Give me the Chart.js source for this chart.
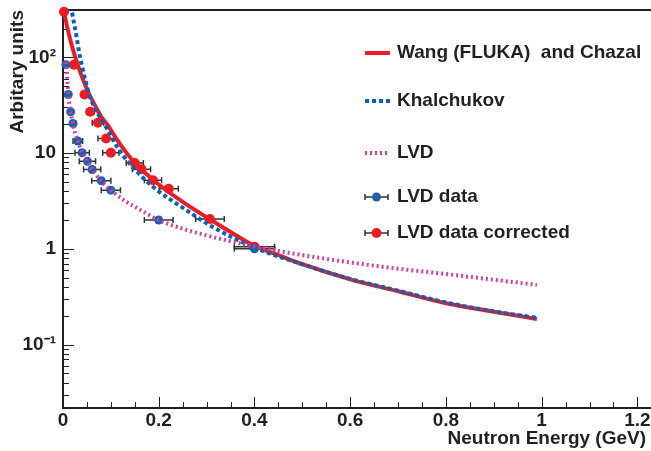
<!DOCTYPE html>
<html>
<head>
<meta charset="utf-8">
<title>Neutron energy spectrum</title>
<script src="https://cdn.jsdelivr.net/npm/chart.js@4.4.1/dist/chart.umd.min.js"></script>
<style>
  html, body { margin: 0; padding: 0; background: #fff; }
  #wrap { width: 651px; height: 451px; }
</style>
</head>
<body>
<div id="wrap"><canvas id="neutronChart"></canvas></div>
<script>
// --------------------
// Data
// --------------------
const wangE = [0.002, 0.01, 0.02, 0.03, 0.04, 0.055, 0.07, 0.08, 0.094, 0.11, 0.133, 0.15, 0.175, 0.2, 0.25, 0.306, 0.35, 0.4, 0.45, 0.5, 0.6, 0.7, 0.8, 0.9, 0.99];
const wangY = [300, 195, 125, 86, 62, 41, 29.5, 24, 19.5, 14.5, 10, 7.9, 6.0, 4.7, 3.1, 2.05, 1.5, 1.07, 0.86, 0.69, 0.48, 0.36, 0.27, 0.22, 0.185];

const khalE = [0.01, 0.019, 0.022, 0.028, 0.033, 0.04, 0.047, 0.055, 0.062, 0.073, 0.094, 0.111, 0.128, 0.152, 0.188, 0.257, 0.312, 0.4, 0.5, 0.6, 0.7, 0.8, 0.9, 0.99];
const khalY = [335, 290, 242, 168, 118, 80, 57, 40, 33, 25.8, 17.3, 12.1, 9.1, 6.6, 4.45, 2.55, 1.7, 1.03, 0.69, 0.485, 0.365, 0.275, 0.222, 0.19];

const lvdE = [0.007, 0.009, 0.011, 0.013, 0.016, 0.021, 0.025, 0.031, 0.04, 0.051, 0.061, 0.08, 0.1, 0.128, 0.15, 0.2, 0.25, 0.3, 0.35, 0.4, 0.5, 0.6, 0.7, 0.8, 0.9, 0.99];
const lvdY = [90, 60, 42, 33, 26.5, 20, 16.5, 13.4, 10.2, 8.2, 6.8, 5.1, 4.1, 3.2, 2.75, 2.0, 1.62, 1.38, 1.2, 1.06, 0.86, 0.72, 0.62, 0.545, 0.475, 0.42];

const dataE = [0.006, 0.011, 0.016, 0.021, 0.031, 0.040, 0.051, 0.061, 0.080, 0.100, 0.200, 0.400];
const dataY = [84, 41, 27, 20.4, 13.4, 10.1, 8.2, 6.75, 5.15, 4.1, 2.0, 1.0];
const dataErr = [0.003, 0.003, 0.004, 0.005, 0.01, 0.015, 0.017, 0.018, 0.02, 0.02, 0.03, 0.042];

const corrE = [0.002, 0.023, 0.045, 0.057, 0.073, 0.090, 0.100, 0.150, 0.164, 0.188, 0.221, 0.307, 0.400];
const corrY = [300, 84, 41, 27, 20.8, 14.2, 10.1, 7.9, 6.8, 5.2, 4.25, 2.05, 1.05];
const corrErr = [0, 0.003, 0.005, 0.008, 0.012, 0.017, 0.017, 0.018, 0.019, 0.018, 0.02, 0.03, 0.042];

const xTicks = [0, 0.2, 0.4, 0.6, 0.8, 1.0, 1.2];
const xTickLabels = ["0", "0.2", "0.4", "0.6", "0.8", "1", "1.2"];
const yTicks = [0.1, 1, 10, 100];
const yTickLabels = ["10\u207B\u00B9", "1", "10", "10\u00B2"];

const xMinorStep = 0.05;
const ink = "#231f20";
const boldFont = { family: "'Liberation Sans', Arial, sans-serif", size: 19, weight: "bold" };

function pts(xs, ys) {
  return xs.map((v, i) => ({ x: v, y: ys[i] }));
}

// --------------------
// Frame + inward ROOT-style ticks
// --------------------
const frameTicks = {
  id: "frameTicks",
  beforeDatasetsDraw(chart) {
    const { ctx, chartArea: a, scales: { x, y } } = chart;
    ctx.save();
    ctx.strokeStyle = ink;
    ctx.lineWidth = 2;
    ctx.beginPath();
    ctx.moveTo(chart.width, a.top);
    ctx.lineTo(a.left, a.top);
    ctx.lineTo(a.left, a.bottom);
    ctx.lineTo(chart.width, a.bottom);
    ctx.stroke();

    ctx.lineWidth = 1;
    ctx.beginPath();
    for (let v = 0; v <= x.max + 1e-9; v += xMinorStep) {
      const px = Math.round(x.getPixelForValue(v)) + 0.5;
      const major = xTicks.some(t => Math.abs(t - v) < 1e-6);
      ctx.moveTo(px, a.bottom);
      ctx.lineTo(px, a.bottom - (major ? 11 : 6));
    }
    for (let d = -2; d <= 2; d++) {
      for (let m = 1; m <= 9; m++) {
        const v = m * Math.pow(10, d);
        if (v < y.min || v > y.max) continue;
        const py = Math.round(y.getPixelForValue(v)) + 0.5;
        ctx.moveTo(a.left, py);
        ctx.lineTo(a.left + (m === 1 ? 11 : 6), py);
      }
    }
    ctx.stroke();

    // horizontal error bars under the markers
    ctx.strokeStyle = "#333";
    ctx.lineWidth = 1.5;
    chart.data.datasets.forEach(ds => {
      if (!ds.errorBars) return;
      ds.data.forEach((p, i) => {
        const err = ds.errorBars[i];
        if (!err) return;
        const py = y.getPixelForValue(p.y);
        const x1 = x.getPixelForValue(p.x - err);
        const x2 = x.getPixelForValue(p.x + err);
        ctx.beginPath();
        ctx.moveTo(x1, py); ctx.lineTo(x2, py);
        ctx.moveTo(x1, py - 3); ctx.lineTo(x1, py + 3);
        ctx.moveTo(x2, py - 3); ctx.lineTo(x2, py + 3);
        ctx.stroke();
      });
    });
    ctx.restore();
  }
};

// --------------------
// Legend drawn inside the frame, no box
// --------------------
const lvdLegend = {
  id: "lvdLegend",
  afterDraw(chart, args, opts) {
    const { ctx } = chart;
    ctx.save();
    chart.data.datasets.forEach((ds, i) => {
      const yy = opts.rows[i];
      const x0 = opts.x, x1 = opts.x + 25;
      if (ds.showLine) {
        ctx.strokeStyle = ds.borderColor;
        ctx.lineWidth = ds.borderWidth;
        ctx.setLineDash(ds.borderDash || []);
        ctx.beginPath();
        ctx.moveTo(x0, yy); ctx.lineTo(x1, yy);
        ctx.stroke();
        ctx.setLineDash([]);
      } else {
        ctx.strokeStyle = "#333";
        ctx.lineWidth = 1.5;
        ctx.beginPath();
        ctx.moveTo(x0, yy); ctx.lineTo(x1 - 2, yy);
        ctx.moveTo(x0, yy - 3); ctx.lineTo(x0, yy + 3);
        ctx.moveTo(x1 - 2, yy - 3); ctx.lineTo(x1 - 2, yy + 3);
        ctx.stroke();
        ctx.fillStyle = ds.backgroundColor;
        ctx.beginPath();
        ctx.arc((x0 + x1 - 2) / 2, yy, ds.pointRadius, 0, Math.PI * 2);
        ctx.fill();
      }
      ctx.fillStyle = ink;
      ctx.font = "bold 19px 'Liberation Sans', Arial, sans-serif";
      ctx.textBaseline = "middle";
      ctx.fillText(ds.label, opts.textX, yy);
    });
    ctx.restore();
  }
};

// --------------------
// Chart
// --------------------
new Chart(document.getElementById("neutronChart"), {
  type: "line",
  data: {
    datasets: [
      {
        label: "Wang (FLUKA)  and Chazal",
        data: pts(wangE, wangY),
        showLine: true,
        borderColor: "#ec1c24",
        borderWidth: 4,
        pointRadius: 0,
        cubicInterpolationMode: "monotone",
        order: 5
      },
      {
        label: "Khalchukov",
        data: pts(khalE, khalY),
        showLine: true,
        borderColor: "#0b62b3",
        borderWidth: 4,
        borderDash: [4, 3],
        pointRadius: 0,
        cubicInterpolationMode: "monotone",
        order: 3
      },
      {
        label: "LVD",
        data: pts(lvdE, lvdY),
        showLine: true,
        borderColor: "#d23d9e",
        borderWidth: 4,
        borderDash: [2, 3],
        pointRadius: 0,
        cubicInterpolationMode: "monotone",
        order: 1
      },
      {
        label: "LVD data",
        data: pts(dataE, dataY),
        errorBars: dataErr,
        showLine: false,
        backgroundColor: "#1f5fb0",
        borderColor: "#1f5fb0",
        pointRadius: 4.5,
        pointBorderWidth: 0,
        clip: false,
        order: 2
      },
      {
        label: "LVD data corrected",
        data: pts(corrE, corrY),
        errorBars: corrErr,
        showLine: false,
        backgroundColor: "#ec1c24",
        borderColor: "#ec1c24",
        pointRadius: 5,
        pointBorderWidth: 0,
        clip: false,
        order: 4
      }
    ]
  },
  options: {
    responsive: true,
    maintainAspectRatio: false,
    devicePixelRatio: 1,
    animation: false,
    layout: { padding: { top: 10, right: 1, left: 0, bottom: 0 } },
    plugins: {
      legend: { display: false },
      tooltip: { enabled: false },
      lvdLegend: { x: 365, textX: 397, rows: [53, 101, 153, 197, 233] }
    },
    scales: {
      x: {
        type: "linear",
        min: 0,
        max: 1.218,
        grid: { display: false, drawTicks: false },
        border: { display: false },
        afterBuildTicks: s => { s.ticks = xTicks.map(v => ({ value: v })); },
        afterFit: s => { s.height = 43; s.paddingLeft = 0; s.paddingRight = 0; },
        ticks: {
          autoSkip: false,
          maxRotation: 0,
          padding: 1,
          color: ink,
          font: boldFont,
          callback: (v, i) => xTickLabels[i]
        },
        title: {
          display: true,
          text: "Neutron Energy (GeV)",
          align: "end",
          color: ink,
          font: boldFont,
          padding: { top: 0, bottom: 1 }
        }
      },
      y: {
        type: "logarithmic",
        min: 0.0217,
        max: 313,
        grid: { display: false, drawTicks: false },
        border: { display: false },
        afterBuildTicks: s => { s.ticks = yTicks.map(v => ({ value: v })); },
        afterFit: s => { s.width = 63; s.paddingTop = 0; s.paddingBottom = 0; },
        ticks: {
          autoSkip: false,
          padding: 7,
          color: ink,
          font: boldFont,
          callback: (v, i) => yTickLabels[i]
        },
        title: {
          display: true,
          text: "Arbitary units",
          align: "end",
          color: ink,
          font: boldFont,
          padding: { top: 6, bottom: 0 }
        }
      }
    }
  },
  plugins: [frameTicks, lvdLegend]
});
</script>
</body>
</html>
